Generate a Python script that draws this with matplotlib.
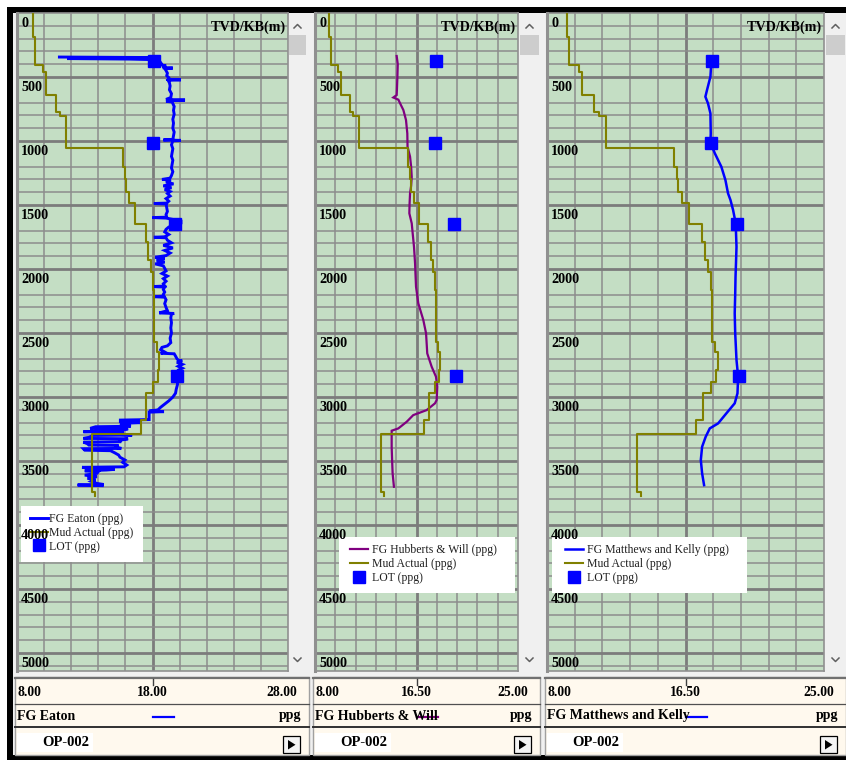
import matplotlib
matplotlib.use("Agg")
import matplotlib.pyplot as plt
from matplotlib.patches import Rectangle, Polygon
from matplotlib.lines import Line2D

# ---------------- data (depth in m TVD/KB, gradients in ppg) ----------------
mud_top_m = [0, 185, 406, 458, 641, 770, 805, 1055, 1200, 1300, 1400, 1484, 1645,
             1786, 1930, 2021, 2164, 2568, 2646, 2789, 2880, 2971, 3180, 3289, 3740]
mud_ppg = [9.20, 9.35, 9.95, 10.15, 10.90, 11.20, 11.65, 15.80, 15.95, 16.05, 16.30,
           16.70, 17.50, 17.70, 17.90, 18.05, 18.12, 18.30, 18.50, 18.40, 18.05, 17.55,
           17.15, 13.55, 13.75]
mud_bottom_m = 3775

lot_depth_m = [372, 1013, 1645, 2836]
lot_ppg = [18.10, 18.05, 19.65, 19.80]

eaton_depth_m = [
    344, 348, 352, 356, 360, 365, 380, 395, 405, 412, 420, 428, 430, 433, 450, 470, 490,
    505, 518, 522, 526, 545, 570, 600, 630, 660, 675, 680, 684, 690, 695, 730, 760, 790,
    830, 860, 900, 930, 960, 988, 992, 995, 998, 1030, 1060, 1090, 1120, 1150, 1180,
    1210, 1240, 1270, 1290, 1300, 1304, 1320, 1335, 1350, 1365, 1380, 1395, 1410, 1430,
    1450, 1470, 1485, 1488, 1492, 1520, 1550, 1575, 1595, 1598, 1602, 1615, 1625, 1640,
    1650, 1662, 1672, 1690, 1710, 1730, 1748, 1752, 1756, 1775, 1795, 1815, 1835, 1855,
    1875, 1895, 1908, 1918, 1932, 1946, 1960, 1975, 1995, 2015, 2035, 2055, 2075, 2095,
    2115, 2133, 2137, 2141, 2160, 2180, 2198, 2212, 2216, 2220, 2240, 2270, 2300, 2325,
    2343, 2347, 2352, 2380, 2420, 2460, 2500, 2540, 2575, 2600, 2612, 2630, 2648, 2658,
    2662, 2680, 2700, 2712, 2718, 2730, 2745, 2760, 2775, 2790, 2820, 2860, 2900, 2940,
    2970, 3000, 3030, 3055, 3080, 3100, 3110, 3114, 3118, 3176, 3180, 3192, 3200, 3206,
    3210, 3228, 3232, 3245, 3248, 3262, 3271, 3275, 3290, 3297, 3300, 3315, 3323, 3326,
    3340, 3349, 3352, 3365, 3375, 3378, 3392, 3401, 3404, 3415, 3419, 3435, 3453, 3470,
    3492, 3510, 3531, 3545, 3549, 3558, 3565, 3570, 3576, 3583, 3596, 3610, 3622, 3635,
    3648, 3660, 3675, 3683, 3687, 3692]
eaton_ppg = [
    11.13, 18.10, 18.10, 11.70, 16.30, 18.30, 18.55, 18.65, 18.60, 19.00, 18.85, 18.85,
    19.50, 18.90, 19.00, 19.10, 19.05, 19.20, 19.15, 20.10, 19.15, 19.25, 19.30, 19.25,
    19.40, 19.35, 19.00, 20.40, 19.40, 19.00, 19.45, 19.60, 19.55, 19.60, 19.50, 19.55,
    19.50, 19.60, 19.55, 19.50, 18.80, 20.10, 19.50, 19.40, 19.50, 19.45, 19.40, 19.50,
    19.45, 19.40, 19.50, 19.40, 19.30, 18.70, 19.35, 19.00, 19.55, 18.80, 19.40, 18.90,
    19.30, 19.10, 19.30, 19.00, 19.20, 19.05, 18.10, 19.00, 19.05, 19.10, 19.00, 19.05,
    18.00, 19.00, 19.60, 20.10, 20.10, 19.40, 20.05, 19.20, 19.00, 18.90, 19.20, 18.90,
    18.10, 19.00, 19.10, 19.40, 18.80, 19.50, 18.90, 19.30, 19.00, 18.20, 18.90, 18.30,
    18.90, 18.20, 18.80, 18.90, 19.00, 18.70, 19.10, 18.80, 19.00, 18.80, 18.90, 18.00,
    18.90, 18.80, 18.90, 18.80, 18.85, 18.10, 18.90, 19.00, 18.90, 19.00, 19.10, 18.50,
    19.60, 19.40, 19.35, 19.40, 19.35, 19.40, 19.30, 19.35, 19.10, 18.70, 18.60, 18.90,
    18.60, 19.60, 19.70, 19.80, 19.90, 20.20, 19.80, 20.20, 19.90, 20.20, 19.90, 19.90,
    19.80, 19.85, 19.75, 19.70, 19.50, 19.20, 18.90, 18.60, 18.40, 17.75, 18.85, 17.75,
    17.75, 15.63, 15.63, 17.10, 15.60, 15.80, 16.40, 13.80, 13.40, 16.20, 15.60, 12.90,
    15.90, 15.00, 16.50, 13.60, 13.30, 12.90, 16.20, 15.50, 15.70, 12.90, 13.20, 13.30,
    15.50, 15.20, 15.70, 12.90, 13.00, 14.90, 15.20, 15.50, 15.60, 15.97, 15.80, 16.10,
    15.90, 12.80, 13.50, 15.20, 14.60, 13.00, 14.00, 13.90, 13.00, 13.90, 13.20, 13.80,
    13.50, 13.90, 14.40, 12.47, 14.30]

hw_depth_m = [336, 400, 500, 600, 641, 660, 677, 720, 758, 836, 940, 1044, 1122, 1200,
              1279, 1350, 1409, 1490, 1565, 1643, 1740, 1826, 1956, 2050, 2138, 2268,
              2398, 2502, 2580, 2659, 2763, 2841, 2919, 3023, 3049, 3102, 3141, 3193,
              3245, 3263, 3388, 3500, 3596, 3701]
hw_ppg = [14.84, 14.93, 14.90, 14.86, 14.84, 14.56, 14.98, 15.20, 15.40, 15.62, 15.73,
          15.75, 15.96, 16.05, 16.10, 16.05, 15.96, 15.92, 15.90, 16.10, 16.20, 16.29,
          16.38, 16.42, 16.46, 16.65, 17.07, 17.30, 17.35, 17.40, 17.77, 18.13, 18.24,
          18.19, 18.05, 17.35, 16.23, 15.68, 14.98, 14.42, 14.42, 14.46, 14.50, 14.61]

mk_depth_m = [372, 497, 602, 654, 706, 784, 940, 1013, 1096, 1201, 1305, 1409, 1461,
              1539, 1643, 1826, 1950, 2060, 2200, 2346, 2500, 2711, 2841, 2971, 3049,
              3127, 3206, 3245, 3310, 3388, 3492, 3596, 3688]
mk_ppg = [18.09, 18.03, 17.82, 17.72, 17.88, 18.03, 18.05, 18.03, 18.30, 18.70, 18.95,
          19.11, 19.26, 19.42, 19.58, 19.63, 19.60, 19.57, 19.55, 19.52, 19.55, 19.63,
          19.73, 19.69, 19.52, 19.01, 18.50, 17.99, 17.74, 17.52, 17.44, 17.52, 17.64]

track_names = ["FG Eaton", "FG Hubberts & Will", "FG Matthews and Kelly"]
legend_names = ["FG Eaton (ppg)", "FG Hubberts & Will (ppg)", "FG Matthews and Kelly (ppg)"]
scale_labels = [["8.00", "18.00", "28.00"], ["8.00", "16.50", "25.00"], ["8.00", "16.50", "25.00"]]
x_ranges = [(8.0, 28.0), (8.0, 25.0), (8.0, 25.0)]
depth_labels = list(range(0, 5001, 500))
well_name = "OP-002"

# ---------------- styling / layout (pixel units) ----------------
W, H = 846, 760
SERIF = "Liberation Serif"
GREEN = "#C4DEC4"
BEIGE = "#FFF9EE"
PANEL_GRAY = "#F0F0F0"
MUD_COLOR = "#808000"
BLUE = "#0000FF"
PURPLE = "#800080"
DEPTH_MAX = 5140

layout = [
    dict(plot=(17, 13, 288, 671), sb=(288, 13, 307, 671), strip=(15, 676, 309, 755),
         legend_box=(21, 506, 143, 562), legend_xy=(30, 513), pad=0.15),
    dict(plot=(315, 13, 518, 671), sb=(519, 13, 540, 671), strip=(313, 676, 540, 755),
         legend_box=(339, 537, 515, 593), legend_xy=(350, 544.5), pad=0.4),
    dict(plot=(547, 13, 824, 671), sb=(825, 13, 846, 671), strip=(545, 676, 846, 755),
         legend_box=(552, 537, 747, 593), legend_xy=(565, 544.5), pad=0.4),
]
fg_series = [(eaton_depth_m, eaton_ppg, BLUE, 2.1),
             (hw_depth_m, hw_ppg, PURPLE, 1.6),
             (mk_depth_m, mk_ppg, BLUE, 1.8)]


def fig_rect(x0, y0, x1, y1):
    return [x0 / W, 1 - y1 / H, (x1 - x0) / W, (y1 - y0) / H]


def ax_frac(box, x, y):
    x0, y0, x1, y1 = box
    return (x - x0) / (x1 - x0), 1 - (y - y0) / (y1 - y0)


# step polyline for the mud weight
mud_x, mud_y = [], []
bounds = mud_top_m[1:] + [mud_bottom_m]
for top, bot, w in zip(mud_top_m, bounds, mud_ppg):
    mud_x += [w, w]
    mud_y += [top, bot]

fig = plt.figure(figsize=(W / 100, H / 100), dpi=100)
fig.patch.set_facecolor("white")

bg = fig.add_axes([0, 0, 1, 1])
bg.set_xlim(0, W)
bg.set_ylim(H, 0)
bg.axis("off")
bg.add_patch(Rectangle((7, 7), W - 7, H - 7, facecolor="black", edgecolor="none"))
bg.add_patch(Rectangle((13, 13), W - 13, 742, facecolor=PANEL_GRAY, edgecolor="none"))

for i, lay in enumerate(layout):
    px0, py0, px1, py1 = lay["plot"]
    sx0, sy0, sx1, sy1 = lay["sb"]
    tx0, ty0, tx1, ty1 = lay["strip"]
    xmin, xmax = x_ranges[i]
    pcx = (px0 + px1) / 2

    # scrollbar
    bg.add_patch(Rectangle((sx0, sy0), sx1 - sx0, sy1 - sy0, facecolor=PANEL_GRAY, edgecolor="none"))
    bg.add_patch(Rectangle((sx0 + 1, 35), sx1 - sx0 - 2, 20, facecolor="#CDCDCD", edgecolor="none"))
    scx = (sx0 + sx1) / 2
    bg.plot([scx - 3.5, scx, scx + 3.5], [28, 24.5, 28], color="#606060", lw=1.1)
    bg.plot([scx - 3.5, scx, scx + 3.5], [658, 661.5, 658], color="#606060", lw=1.1)

    # bottom header strip
    bg.add_patch(Rectangle((tx0, ty0 + 1), tx1 - tx0, ty1 - ty0 - 1, facecolor=BEIGE,
                           edgecolor="#A0A0A0", lw=1.0))
    bg.plot([tx0, tx1], [678, 678], color="#707070", lw=1.6)
    bg.plot([tx0, tx1], [704, 704], color="#505050", lw=0.9)
    bg.plot([tx0, tx1], [727, 727], color="#303030", lw=1.4)
    bg.plot([pcx, pcx], [679, 685], color="#404040", lw=1.0)
    lo, mid, hi = scale_labels[i]
    tkw = dict(fontfamily=SERIF, fontweight="bold", va="center", color="black")
    bg.text(tx0 + 2, 693, lo, ha="left", fontsize=9.8, **tkw)
    bg.text(pcx, 693, mid, ha="center", fontsize=9.8, **tkw)
    bg.text(tx1 - 12, 693, hi, ha="right", fontsize=9.8, **tkw)
    bg.text(tx0 + 2, 716, track_names[i], ha="left", fontsize=10, **tkw)
    bg.text(tx1 - 8, 716, "ppg", ha="right", fontsize=10, **tkw)
    bg.plot([pcx, pcx + 21], [717, 717], color=fg_series[i][2], lw=1.6)
    bg.add_patch(Rectangle((tx0 + 2, 733), 76, 19, facecolor="white", edgecolor="none"))
    bg.text(tx0 + 27, 742.5, well_name, ha="left", fontsize=10.5, **tkw)
    bx = tx1 - 26
    bg.add_patch(Rectangle((bx, 736), 17, 17, facecolor="#F4F4F4", edgecolor="black", lw=0.9))
    bg.add_patch(Polygon([(bx + 5, 740), (bx + 5, 749.5), (bx + 12.5, 744.75)],
                         closed=True, facecolor="black", edgecolor="none"))

    # log track
    ax = fig.add_axes(fig_rect(px0, py0, px1, py1))
    ax.set_facecolor(GREEN)
    ax.set_xlim(xmin, xmax)
    ax.set_ylim(DEPTH_MAX, 0)
    ax.set_xticks([])
    ax.set_yticks([])
    for side, sp in ax.spines.items():
        sp.set_color("#909090")
        sp.set_linewidth(1.2)
    ax.spines["left"].set_linewidth(2.2)

    step = (xmax - xmin) / 10
    for k in range(1, 10):
        xv = xmin + k * step
        major = (k == 5)
        ax.axvline(xv, color="#7C7C7C" if major else "#8C8C8C", lw=2.0 if major else 1.1, zorder=1)
    for d in range(100, 5101, 100):
        if d % 500 == 0:
            ax.axhline(d, color="#7C7C7C", lw=2.0, zorder=1)
        elif d not in (600, 1100, 1600, 2100, 2600):
            ax.axhline(d, color="#8C8C8C", lw=1.1, zorder=1)

    for d in depth_labels:
        ax.annotate(str(d), xy=(xmin, d), xytext=(2.9, -7.6), textcoords="offset points",
                    ha="left", va="center", fontfamily=SERIF, fontweight="bold",
                    fontsize=10.2, zorder=7, annotation_clip=False)
    ax.annotate("TVD/KB(m)", xy=(xmax, 0), xytext=(-1.5, -10.0), textcoords="offset points",
                ha="right", va="center", fontfamily=SERIF, fontweight="bold", fontsize=10.2,
                zorder=7, annotation_clip=False)

    fg_d, fg_v, fg_c, fg_lw = fg_series[i]
    h_fg, = ax.plot(fg_v, fg_d, color=fg_c, lw=fg_lw, zorder=3, solid_joinstyle="miter")
    h_mud, = ax.plot(mud_x, mud_y, color=MUD_COLOR, lw=1.5, zorder=3)
    h_lot, = ax.plot(lot_ppg, lot_depth_m, "s", color=BLUE, ms=8, zorder=4, linestyle="none")

    # legend on a white card
    box = (px0, py0, px1, py1)
    lx0, ly0, lx1, ly1 = lay["legend_box"]
    fx0, fy1 = ax_frac(box, lx0, ly1)
    fx1, fy0 = ax_frac(box, lx1, ly0)
    ax.add_patch(Rectangle((fx0, fy1), fx1 - fx0, fy0 - fy1, transform=ax.transAxes,
                           facecolor="white", edgecolor="none", zorder=5))
    ax_x, ax_y = ax_frac(box, *lay["legend_xy"])
    leg = ax.legend([h_fg, h_mud, h_lot], [legend_names[i], "Mud Actual (ppg)", "LOT (ppg)"],
                    loc="upper left", bbox_to_anchor=(ax_x, ax_y), frameon=False,
                    borderpad=0, borderaxespad=0, handlelength=1.5, handletextpad=lay["pad"],
                    labelspacing=0.15, numpoints=1,
                    prop=dict(family=SERIF, size=8.5))
    for t in leg.get_texts():
        t.set_color("#202020")
    leg.set_zorder(6)

fig.savefig("out.png", dpi=100)
